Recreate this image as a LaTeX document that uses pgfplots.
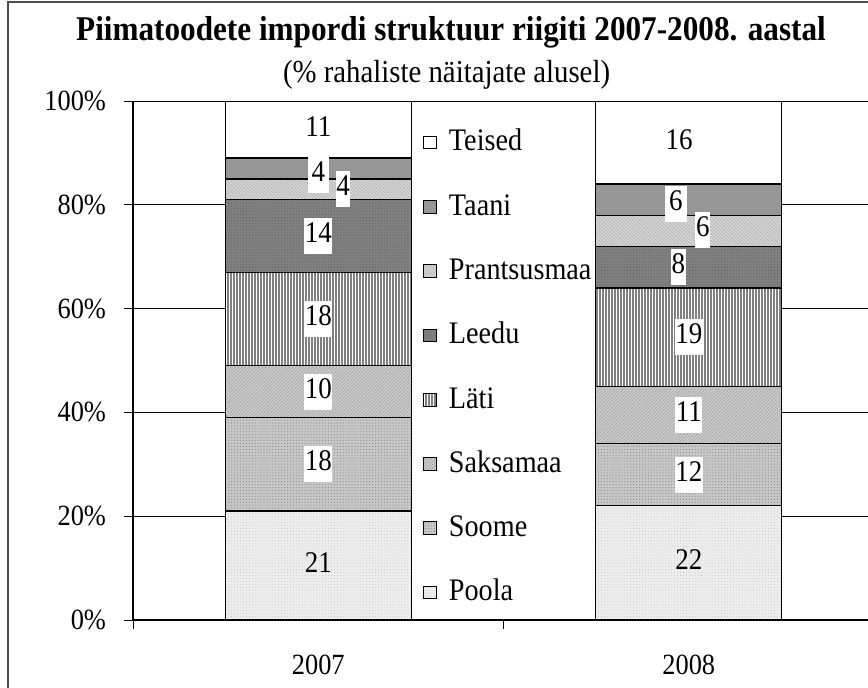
\documentclass[border=0pt]{standalone}
\usepackage{pgfplots}
\pgfplotsset{compat=1.18}
\usepackage{fontspec}
\setmainfont{Liberation Serif}[FakeStretch=0.9]
\usetikzlibrary{patterns.meta}
\tikzset{lbl/.style={fill=white, inner xsep=0.5pt, inner ysep=4.5pt, text height=14pt, text depth=4pt, font=\fontsize{22.5}{26}\selectfont}}
\begin{document}
\begin{tikzpicture}
\fontsize{22}{26}\selectfont
% outer frame
\draw[line width=1.5pt, black!70] (6pt,-1.8pt) rectangle (720pt,-600pt);
\node[anchor=base, font=\bfseries\fontsize{26}{30}\selectfont] at (338.25pt,-30pt) {Piimatoodete impordi struktuur riigiti 2007-2008. aastal};
\node[anchor=base, font=\fontsize{24}{28}\selectfont] at (334.9pt,-61.5pt) {(\% rahaliste näitajate alusel)};
\begin{axis}[
  at={(99.75pt,-465pt)}, anchor=south west,
  scale only axis, width=555.75pt, height=389.25pt,
  xmin=-0.5, xmax=1.5, ymin=0, ymax=100,
  ybar stacked, bar width=139.5pt,
  axis x line*=bottom, axis y line*=left,
  axis line style={line width=1pt, black},
  xtick={0,1}, xticklabels={2007,2008},
  minor xtick={-0.5,0.5,1.5},
  major x tick style={draw=none},
  minor x tick style={black, line width=0.75pt},
  ytick={0,20,40,60,80,100},
  yticklabels={0\%,20\%,40\%,60\%,80\%,100\%},
  ytick style={black, line width=0.75pt},
  tick align=outside,
  major tick length=6.75pt, minor tick length=6.75pt,
  ymajorgrids, grid style={black, line width=0.75pt},
  tick label style={font=\fontsize{22}{26}\selectfont},
  /pgf/number format/assume math mode=true,
  xticklabel style={yshift=-12pt},
  yticklabel style={xshift=-6pt},
  legend style={at={(0.386,0.948)}, anchor=north west, draw=none, fill=none,
    font=\fontsize{23.5}{27}\selectfont, row sep=28.2pt, column sep=9pt,
    nodes={text height=15pt, text depth=5pt, inner sep=0pt},
    cells={anchor=west}},
  reverse legend,
  legend image code/.code={\draw[#1, line width=0.75pt] (0pt,-3.5pt) rectangle (9.5pt,6pt);},
]
% white legend background between the bars
\fill[white] (axis cs:0.253,1.5) rectangle (axis cs:0.747,96.5);
\addplot[draw=black, line width=1pt, fill=black!7,
  postaction={pattern color=black!25, pattern={Dots[distance=2.2pt, radius=0.35pt]}}]
  coordinates {(0,21) (1,22)};
\addlegendentry{Poola}
\addplot[draw=black, line width=1pt, fill=black!22,
  postaction={pattern color=black!45, pattern={Dots[distance=2.2pt, radius=0.45pt]}}]
  coordinates {(0,18) (1,12)};
\addlegendentry{Soome}
\addplot[draw=black, line width=1pt, fill=black!20,
  postaction={pattern color=black!35, pattern={Lines[angle=45, distance=1.8pt, line width=0.5pt]}}]
  coordinates {(0,10) (1,11)};
\addlegendentry{Saksamaa}
\addplot[draw=black, line width=1pt, fill=white,
  postaction={pattern color=black!50, pattern={Lines[angle=90, distance=2.25pt, line width=1pt]}}]
  coordinates {(0,18) (1,19)};
\addlegendentry{Läti}
\addplot[draw=black, line width=1pt, fill=black!50,
  postaction={pattern color=black!60, pattern={Dots[distance=2.2pt, radius=0.45pt]}}]
  coordinates {(0,14) (1,8)};
\addlegendentry{Leedu}
\addplot[draw=black, line width=1pt, fill=black!16,
  postaction={pattern color=black!30, pattern={Lines[angle=-45, distance=1.8pt, line width=0.5pt]}}]
  coordinates {(0,4) (1,6)};
\addlegendentry{Prantsusmaa}
\addplot[draw=black, line width=1pt, fill=black!41]
  coordinates {(0,4) (1,6)};
\addlegendentry{Taani}
\addplot[draw=black, line width=1pt, fill=white]
  coordinates {(0,11) (1,16)};
\addlegendentry{Teised}
% label anchors
\coordinate (a1) at (axis cs:0,10.5);
\coordinate (a2) at (axis cs:0,30);
\coordinate (a3) at (axis cs:0,44);
\coordinate (a4) at (axis cs:0,58);
\coordinate (a5) at (axis cs:0,74);
\coordinate (a6) at (axis cs:0.067,83);
\coordinate (a7) at (axis cs:0,85.7);
\coordinate (a8) at (axis cs:0,94.5);
\coordinate (b1) at (axis cs:1,11);
\coordinate (b2) at (axis cs:1,28);
\coordinate (b3) at (axis cs:1,39.5);
\coordinate (b4) at (axis cs:1,54.5);
\coordinate (b5) at (axis cs:0.972,68);
\coordinate (b6) at (axis cs:1.038,75.1);
\coordinate (b7) at (axis cs:0.965,80.2);
\coordinate (b8) at (axis cs:0.974,92);
\end{axis}
\node[lbl, fill=none] at (a1) {21};
\node[lbl] at (a2) {18};
\node[lbl] at (a3) {10};
\node[lbl] at (a4) {18};
\node[lbl] at (a5) {14};
\node[lbl] at (a6) {4};
\node[lbl, inner xsep=3pt] at (a7) {4};
\node[lbl] at (a8) {11};
\node[lbl, fill=none] at (b1) {22};
\node[lbl] at (b2) {12};
\node[lbl] at (b3) {11};
\node[lbl] at (b4) {19};
\node[lbl] at (b5) {8};
\node[lbl] at (b6) {6};
\node[lbl, inner xsep=3pt] at (b7) {6};
\node[lbl] at (b8) {16};
\pgfresetboundingbox
\useasboundingbox (0pt,0pt) rectangle (651pt,-515.25pt);
\end{tikzpicture}
\end{document}
